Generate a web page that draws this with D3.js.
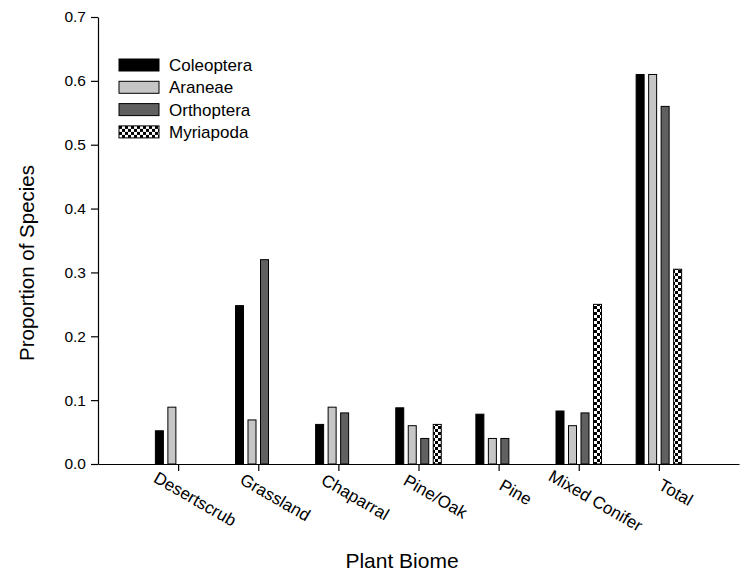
<!DOCTYPE html>
<html>
<head>
<meta charset="utf-8">
<script src="https://cdn.jsdelivr.net/npm/d3@7"></script>
<style>
  body { margin: 0; background: #fff; }
  text { font-family: "Liberation Sans", Arial, sans-serif; fill: #000; }
</style>
</head>
<body>
<div id="chart"></div>
<script>
// biome categories along the x axis
const categories = ["Desertscrub", "Grassland", "Chaparral", "Pine/Oak", "Pine", "Mixed Conifer", "Total"];
const seriesNames = ["Coleoptera", "Araneae", "Orthoptera", "Myriapoda"];

// proportion of species, null = no bar
const coleoptera = [0.052, 0.248, 0.062, 0.088, 0.078, 0.083, 0.61];
const araneae    = [0.089, 0.069, 0.089, 0.060, 0.040, 0.060, 0.61];
const orthoptera = [null,  0.32,  0.080, 0.040, 0.040, 0.080, 0.56];
const myriapoda  = [null,  null,  null,  0.062, null,  0.25,  0.305];

const yTicks = [0, 0.1, 0.2, 0.3, 0.4, 0.5, 0.6, 0.7];

const seriesValues = [coleoptera, araneae, orthoptera, myriapoda];
const fills = ["#000000", "#c6c6c6", "#606060", "url(#checker)"];

const width = 750, height = 585;
const margin = { top: 17, right: 11, bottom: 121, left: 98 };

const svg = d3.select("#chart")
  .append("svg")
  .attr("width", width)
  .attr("height", height);

// checkerboard fill for Myriapoda
const pat = svg.append("defs").append("pattern")
  .attr("id", "checker")
  .attr("patternUnits", "userSpaceOnUse")
  .attr("width", 6)
  .attr("height", 6);
pat.append("rect").attr("width", 6).attr("height", 6).attr("fill", "#fff");
pat.append("rect").attr("width", 3).attr("height", 3).attr("fill", "#000");
pat.append("rect").attr("x", 3).attr("y", 3).attr("width", 3).attr("height", 3).attr("fill", "#000");

// x is numeric 0..8, categories sit at 1..7
const x = d3.scaleLinear()
  .domain([0, categories.length + 1])
  .range([margin.left, width - margin.right]);

const y = d3.scaleLinear()
  .domain([0, 0.7])
  .range([height - margin.bottom, margin.top]);

// offset of each series inside a group, in pixels
const inner = d3.scaleBand()
  .domain(seriesNames)
  .range([-25, 25])
  .paddingInner(0.36)
  .paddingOuter(0.18);

const bars = [];
seriesValues.forEach((vals, s) => {
  vals.forEach((v, i) => {
    if (v != null) bars.push({ cat: i, series: s, value: v });
  });
});

svg.append("g")
  .selectAll("rect")
  .data(bars)
  .join("rect")
  .attr("x", d => x(d.cat + 1) + inner(seriesNames[d.series]))
  .attr("y", d => y(d.value))
  .attr("width", inner.bandwidth())
  .attr("height", d => y(0) - y(d.value))
  .attr("fill", d => fills[d.series])
  .attr("stroke", "#000")
  .attr("stroke-width", 1);

// y axis
const yAxis = svg.append("g")
  .attr("transform", `translate(${margin.left},0)`)
  .call(d3.axisLeft(y).tickValues(yTicks).tickFormat(d3.format(".1f")).tickSize(7).tickPadding(5).tickSizeOuter(0));
yAxis.selectAll("text").style("font-size", "15.5px");

// x axis
const xAxis = svg.append("g")
  .attr("transform", `translate(0,${y(0)})`)
  .call(d3.axisBottom(x).tickValues(d3.range(1, categories.length + 1)).tickFormat("").tickSize(7).tickSizeOuter(0));
svg.selectAll(".domain, .tick line").attr("stroke", "#000").attr("stroke-width", 1.2);

// rotated category labels
const labels = svg.append("g")
  .selectAll("text")
  .data(categories)
  .join("text")
  .attr("text-anchor", "middle")
  .attr("dy", "0.35em")
  .style("font-size", "17px")
  .text(d => d);
labels.attr("transform", function(d, i) {
  const w = this.getComputedTextLength();
  return `translate(${x(i + 1) + 17},${488 + 0.12 * w}) rotate(30)`;
});

// axis titles
svg.append("text")
  .attr("text-anchor", "middle")
  .attr("x", 402)
  .attr("y", 568)
  .style("font-size", "21px")
  .text("Plant Biome");

svg.append("text")
  .attr("text-anchor", "middle")
  .attr("transform", `translate(34,263) rotate(-90)`)
  .style("font-size", "20.5px")
  .text("Proportion of Species");

// legend
const legend = svg.append("g")
  .attr("transform", "translate(119,59)");

const item = legend.selectAll("g")
  .data(seriesNames)
  .join("g")
  .attr("transform", (d, i) => `translate(0,${i * 22.3})`);

item.append("rect")
  .attr("width", 40)
  .attr("height", 12)
  .attr("fill", (d, i) => fills[i])
  .attr("stroke", "#000")
  .attr("stroke-width", 1);

item.append("text")
  .attr("x", 50)
  .attr("y", 6)
  .attr("dy", "0.35em")
  .style("font-size", "17px")
  .text(d => d);
</script>
</body>
</html>
